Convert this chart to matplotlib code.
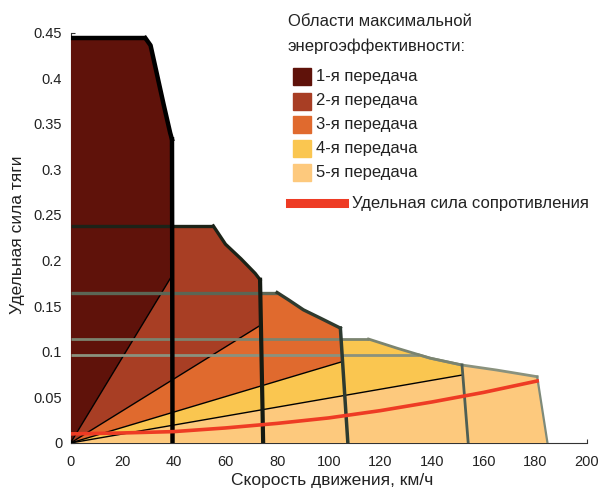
import matplotlib.pyplot as plt
import numpy as np
from matplotlib.patches import Rectangle
from matplotlib.lines import Line2D

plt.rcParams['font.family'] = ['Liberation Sans', 'DejaVu Sans']

# envelope of each gear (speed km/h, specific traction force)
gear1_v = [0, 29.0, 31.0, 32.8, 36.0, 38.6, 39.3]
gear1_f = [0.444, 0.444, 0.436, 0.413, 0.372, 0.340, 0.333]
gear2_v = [0, 55.3, 60.0, 66.0, 71.5, 73.4]
gear2_f = [0.238, 0.238, 0.218, 0.202, 0.186, 0.179]
gear3_v = [0, 80.0, 84.4, 90.2, 96.7, 104.5]
gear3_f = [0.165, 0.165, 0.157, 0.146, 0.137, 0.126]
gear4_v = [0, 115.4, 126.4, 139.3, 151.6]
gear4_f = [0.114, 0.114, 0.104, 0.093, 0.0855]
gear5_v = [0, 135.0, 139.3, 151.6, 165.0, 180.7]
gear5_f = [0.0965, 0.0965, 0.093, 0.0855, 0.080, 0.0727]

# speed where the shift line meets the axis
shift_v = [39.5, 74.6, 107.4, 154.0, 184.7]
# ends of the rays separating the gear areas
ray_v = [39.4, 73.5, 105.0, 151.8]
ray_f = [0.184, 0.129, 0.089, 0.0746]

# specific resistance force
res_v = [0, 20, 40, 60, 80, 100, 120, 140, 160, 180.7]
res_f = [0.010, 0.011, 0.0125, 0.0165, 0.0215, 0.0275, 0.0355, 0.045, 0.0555, 0.068]

gear_names = ['1-я передача', '2-я передача', '3-я передача', '4-я передача', '5-я передача']
fills = ['#5F120A', '#A83E24', '#E06A2E', '#FAC650', '#FDC97D']
hcols = ['#000000', '#1C2318', '#5B6655', '#7B8470', '#8A927E']
scols = ['#000000', '#1C2318', '#2F3A2E', '#7B8470', '#8A927E']
vcols = ['#000000', '#151A12', '#2C3A30', '#4E5E55', '#7E8A7A']
vlw = [3.2, 3.0, 2.5, 2.0, 1.6]
elw = [3.2, 2.4, 2.4, 2.0, 2.0]

env_v = [gear1_v, gear2_v, gear3_v, gear4_v, gear5_v]
env_f = [gear1_f, gear2_f, gear3_f, gear4_f, gear5_f]

fig = plt.figure(figsize=(6.02, 4.91), dpi=100)
ax = fig.add_axes([70.5/602, 1-443/491, (587-70.5)/602, (443-32.6)/491])

# filled areas
for k in range(5):
    v = np.array(env_v[k]); f = np.array(env_f[k])
    pts = [(0, 0)]
    if k == 0:
        pts += list(zip(v, f))
    else:
        v0 = ray_v[k-1]
        pts += [(v0, ray_f[k-1]), (v0, np.interp(v0, v, f))]
        pts += [(a, b) for a, b in zip(v, f) if a > v0]
    if k < 4:
        pts.append((ray_v[k], ray_f[k]))
    else:
        pts.append((shift_v[k], 0))
    xs, ys = zip(*pts)
    ax.fill(xs, ys, color=fills[k], lw=0, zorder=1)

# rays from origin
for k in range(4):
    ax.plot([0, ray_v[k]], [0, ray_f[k]], color='black', lw=1.0, zorder=2)

# envelopes and shift lines
for k in range(4, -1, -1):
    v = env_v[k]; f = env_f[k]
    ax.plot(v[:2], f[:2], color=hcols[k], lw=elw[k], zorder=3, solid_capstyle='butt')
    ax.plot(v[1:], f[1:], color=scols[k], lw=elw[k], zorder=3)
    ax.plot([v[-1], shift_v[k]], [f[-1], 0], color=vcols[k], lw=vlw[k], zorder=3)

ax.plot(res_v, res_f, color='#EE3B24', lw=2.6, zorder=4)

ax.set_xlim(0, 200)
ax.set_ylim(0, 0.45)
ax.set_xticks(np.arange(0, 201, 20))
ax.set_yticks([0, 0.05, 0.1, 0.15, 0.2, 0.25, 0.3, 0.35, 0.4, 0.45])
ax.set_yticklabels(['0', '0.05', '0.1', '0.15', '0.2', '0.25', '0.3', '0.35', '0.4', '0.45'])
ax.set_axisbelow(True)
ax.tick_params(direction='in', length=3, width=0.8, colors='#333333', labelcolor='#222222', labelsize=10.5)
ax.tick_params(axis='x', pad=9)
ax.tick_params(axis='y', pad=6)
ax.spines['top'].set_visible(False)
ax.spines['right'].set_visible(False)
for s in ['left', 'bottom']:
    ax.spines[s].set_color('#333333')
    ax.spines[s].set_linewidth(0.8)
    ax.spines[s].set_zorder(0.6)

def px(x, y):
    return x/602, 1 - y/491

fig.text(*px(332, 480), 'Скорость движения, км/ч', ha='center', va='center', fontsize=12.5, color='#222222')
fig.text(*px(18, 235), 'Удельная сила тяги', ha='center', va='center', rotation=90, fontsize=12.5, color='#222222')

# legend
fig.text(*px(288, 21.5), 'Области максимальной', ha='left', va='center', fontsize=12, color='#222222')
fig.text(*px(288, 46.5), 'энергоэффективности:', ha='left', va='center', fontsize=12, color='#222222')
sw_y = [76.5, 101, 125, 148.5, 172.5]
for k in range(5):
    x0, y0 = px(292.5, sw_y[k] + 8.5)
    fig.add_artist(Rectangle((x0, y0), 18/602, 17/491, transform=fig.transFigure, color=fills[k]))
    fig.text(*px(316, sw_y[k]), gear_names[k], ha='left', va='center', fontsize=12, color='#222222')
x0, y0 = px(290, 203.3)
x1, _ = px(343.5, 203.3)
fig.add_artist(Line2D([x0, x1], [y0, y0], transform=fig.transFigure, color='#EE3B24', lw=6.5))
fig.text(*px(352.5, 203.3), 'Удельная сила сопротивления', ha='left', va='center', fontsize=12, color='#222222')

fig.savefig('out.png', dpi=100)
